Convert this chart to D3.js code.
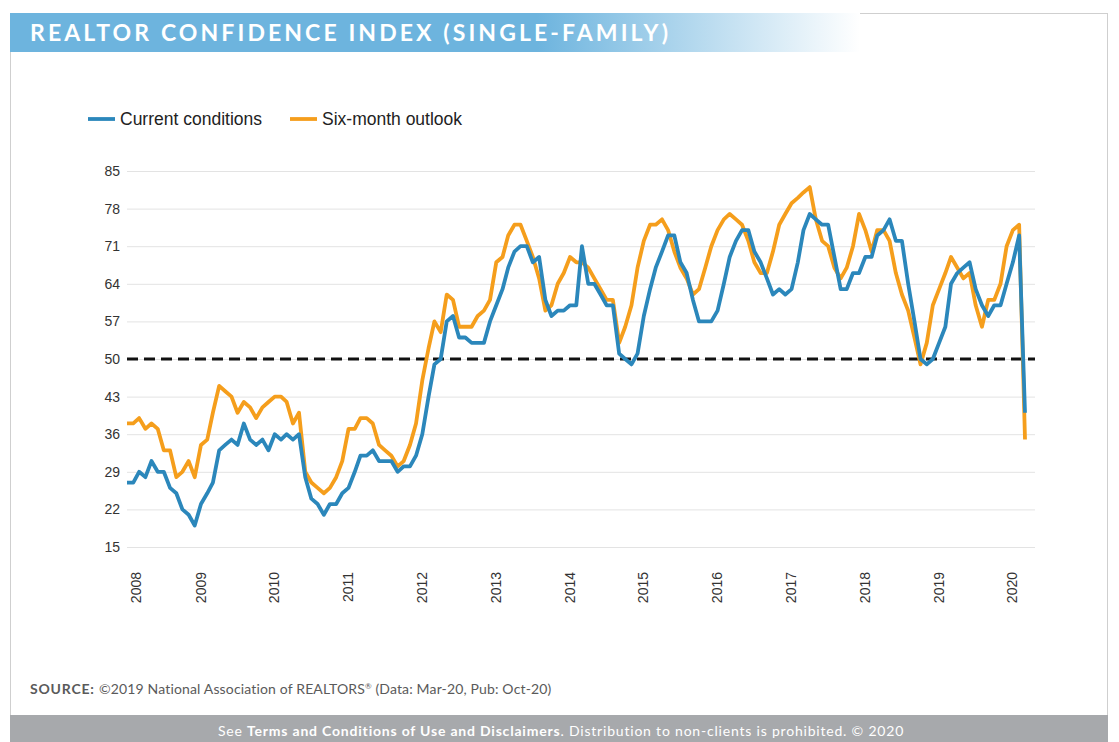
<!DOCTYPE html>
<html>
<head>
<meta charset="utf-8">
<script src="https://cdn.jsdelivr.net/npm/d3@7"></script>
<style>
  body { margin: 0; background: #fff; }
  svg { display: block; }
  .axis path { display: none; }
  .axis line { stroke: #e3e3e3; }
  .axis text { font-family: "Liberation Sans", Arial, sans-serif; font-size: 14px; fill: #333; }
</style>
</head>
<body>
<svg id="chart" width="1119" height="742"></svg>
<script>
// monthly readings, Jan 2008 - Mar 2020
const startMonth = new Date(2008, 0, 1);
const endMonth = new Date(2020, 2, 1);

const currentConditions = [
  27, 27, 29, 28, 31, 29, 29, 26, 25, 22,
  21, 19, 23, 25, 27, 33, 34, 35, 34, 38,
  35, 34, 35, 33, 36, 35, 36, 35, 36, 28,
  24, 23, 21, 23, 23, 25, 26, 29, 32, 32,
  33, 31, 31, 31, 29, 30, 30, 32, 36, 43,
  49, 50, 57, 58, 54, 54, 53, 53, 53, 57,
  60, 63, 67, 70, 71, 71, 68, 69, 61, 58,
  59, 59, 60, 60, 71, 64, 64, 62, 60, 60,
  51, 50, 49, 51, 58, 63, 67, 70, 73, 73,
  68, 66, 61, 57, 57, 57, 59, 64, 69, 72,
  74, 74, 70, 68, 65, 62, 63, 62, 63, 68,
  74, 77, 76, 75, 75, 69, 63, 63, 66, 66,
  69, 69, 73, 74, 76, 72, 72, 64, 57, 50,
  49, 50, 53, 56, 64, 66, 67, 68, 63, 60,
  58, 60, 60, 64, 68, 73, 40
];

const sixMonthOutlook = [
  38, 38, 39, 37, 38, 37, 33, 33, 28, 29,
  31, 28, 34, 35, 40, 45, 44, 43, 40, 42,
  41, 39, 41, 42, 43, 43, 42, 38, 40, 29,
  27, 26, 25, 26, 28, 31, 37, 37, 39, 39,
  38, 34, 33, 32, 30, 31, 34, 38, 46, 52,
  57, 55, 62, 61, 56, 56, 56, 58, 59, 61,
  68, 69, 73, 75, 75, 72, 69, 65, 59, 60,
  64, 66, 69, 68, 68, 67, 65, 63, 61, 61,
  53, 56, 60, 67, 72, 75, 75, 76, 74, 70,
  67, 65, 62, 63, 67, 71, 74, 76, 77, 76,
  75, 72, 68, 66, 66, 70, 75, 77, 79, 80,
  81, 82, 76, 72, 71, 67, 65, 67, 71, 77,
  74, 70, 74, 74, 72, 66, 62, 59, 54, 49,
  53, 60, 63, 66, 69, 67, 65, 66, 60, 56,
  61, 61, 64, 71, 74, 75, 35
];

const yTicks = [15, 22, 29, 36, 43, 50, 57, 64, 71, 78, 85];
const threshold = 50;

const seriesNames = ['Current conditions', 'Six-month outlook'];
const seriesColors = ['#2b87bb', '#f59e1c'];

let months = d3.timeMonth.range(startMonth, d3.timeMonth.offset(endMonth, 1));

let svg = d3.select('#chart');

//
// FRAME, HEADER, FOOTER
//
let defs = svg.append('defs');
let grad = defs.append('linearGradient').attr('id', 'headGrad');
grad.append('stop').attr('offset', '0%').attr('stop-color', '#6db4de');
grad.append('stop').attr('offset', '62%').attr('stop-color', '#6db4de');
grad.append('stop').attr('offset', '100%').attr('stop-color', '#ffffff');

svg.append('rect')
    .attr('x', 10.5).attr('y', 13.5)
    .attr('width', 1097).attr('height', 702)
    .attr('fill', 'none').attr('stroke', '#cfcfcf');

svg.append('rect')
    .attr('x', 10).attr('y', 13)
    .attr('width', 850).attr('height', 39)
    .attr('fill', 'url(#headGrad)');

svg.append('text')
    .attr('x', 30).attr('y', 41)
    .style('font-family', 'Lato, "Open Sans", sans-serif')
    .style('font-weight', 'bold')
    .style('font-size', '23px')
    .style('letter-spacing', '3.1px')
    .attr('fill', '#fff')
    .text('REALTOR CONFIDENCE INDEX (SINGLE-FAMILY)');

svg.append('rect')
    .attr('x', 10).attr('y', 715)
    .attr('width', 1098).attr('height', 27)
    .attr('fill', '#a7a9ac');

let foot = svg.append('text')
    .attr('x', 561).attr('y', 736)
    .attr('text-anchor', 'middle')
    .style('font-family', 'Lato, "Open Sans", sans-serif')
    .style('font-size', '14px')
    .style('letter-spacing', '0.8px')
    .attr('fill', '#fff');
foot.append('tspan').text('See ');
foot.append('tspan').style('font-weight', 'bold').text('Terms and Conditions of Use and Disclaimers');
foot.append('tspan').text('. Distribution to non-clients is prohibited. \u00a9 2020');

let src = svg.append('text')
    .attr('x', 30).attr('y', 694)
    .style('font-family', 'Lato, "Open Sans", sans-serif')
    .style('font-size', '14px')
    .attr('fill', '#5a5a5a');
src.append('tspan').style('font-weight', 'bold').style('letter-spacing', '0.8px').text('SOURCE: ');
src.append('tspan').style('letter-spacing', '0.15px').text('\u00a92019 National Association of REALTORS');
src.append('tspan').attr('dy', -5).style('font-size', '8px').text('\u00ae');
src.append('tspan').attr('dy', 5).style('letter-spacing', '0.15px').text(' (Data: Mar-20, Pub: Oct-20)');

//
// CHART
//
let margin = {left: 127, top: 171},
    width = 908,
    height = 376;

let g = svg.append('g')
    .attr('transform', 'translate(' + margin.left + ',' + margin.top + ')');

let x = d3.scaleTime()
    .domain([startMonth, endMonth])
    .range([0, 898]);

let y = d3.scaleLinear()
    .domain([15, 85])
    .range([height, 0]);

// grid + y labels
g.append('g')
    .attr('class', 'axis')
    .call(d3.axisLeft(y)
        .tickValues(yTicks)
        .tickSize(-width)
        .tickPadding(7)
        .tickFormat(d3.format('d')))
    .selectAll('line')
    .attr('stroke', d => d === threshold ? 'none' : '#e3e3e3');

// x labels, one per year
let xAxis = g.append('g')
    .attr('class', 'axis')
    .attr('transform', 'translate(0,' + height + ')')
    .call(d3.axisBottom(x)
        .ticks(d3.timeYear.every(1))
        .tickSize(0)
        .tickFormat(d3.timeFormat('%Y')));
xAxis.selectAll('text')
    .style('text-anchor', 'end')
    .attr('dx', '-25px')
    .attr('dy', '0.08em')
    .attr('transform', (d, i) => i === 0 ? 'translate(9,0) rotate(-90)' : 'rotate(-90)');

// threshold line at 50
g.append('line')
    .attr('x1', 0).attr('x2', width)
    .attr('y1', y(threshold)).attr('y2', y(threshold))
    .attr('stroke', '#111')
    .attr('stroke-width', 3)
    .attr('stroke-dasharray', '11,6');

let line = d3.line()
    .x((d, i) => x(months[i]))
    .y(d => y(d));

// outlook first so current conditions sits on top
g.append('path')
    .datum(sixMonthOutlook)
    .attr('fill', 'none')
    .attr('stroke', seriesColors[1])
    .attr('stroke-width', 3.8)
    .attr('stroke-linejoin', 'round')
    .attr('d', line);

g.append('path')
    .datum(currentConditions)
    .attr('fill', 'none')
    .attr('stroke', seriesColors[0])
    .attr('stroke-width', 3.8)
    .attr('stroke-linejoin', 'round')
    .attr('d', line);

// legend
let legend = svg.append('g').attr('transform', 'translate(88,119)');
let legendX = [0, 202];
seriesNames.forEach((name, i) => {
    let item = legend.append('g').attr('transform', 'translate(' + legendX[i] + ',0)');
    item.append('line')
        .attr('x1', 0).attr('x2', 27)
        .attr('stroke', seriesColors[i])
        .attr('stroke-width', 3.8);
    item.append('text')
        .attr('x', 32).attr('y', 6)
        .style('font-family', '"Liberation Sans", Arial, sans-serif')
        .style('font-size', '17.5px')
        .attr('fill', '#222')
        .text(name);
});
</script>
</body>
</html>
